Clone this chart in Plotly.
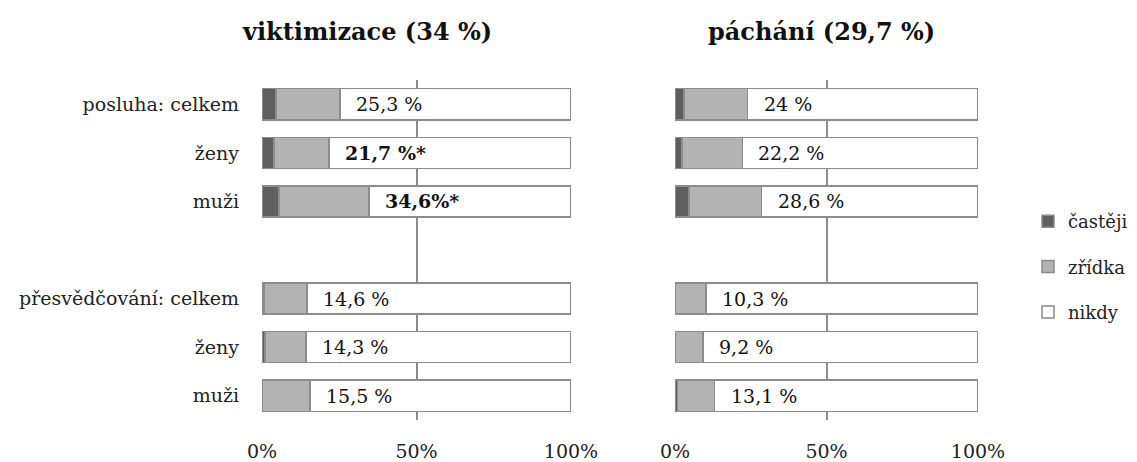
import plotly.graph_objects as go

categories = ["posluha: celkem", "ženy", "muži", "přesvědčování: celkem", "ženy", "muži"]
groups = [0, 0, 0, 1, 1, 1]

# viktimizace
vik_castej = [4.5, 3.9, 5.5, 0.6, 1.0, 0.0]
vik_zridka = [20.8, 17.8, 29.1, 14.0, 13.3, 15.5]
vik_labels = ["25,3 %", "<b>21,7 %*</b>", "<b>34,6%*</b>", "14,6 %", "14,3 %", "15,5 %"]

# páchání
pach_castej = [3.0, 2.3, 4.6, 0.0, 0.0, 0.8]
pach_zridka = [21.0, 19.9, 24.0, 10.3, 9.2, 12.3]
pach_labels = ["24 %", "22,2 %", "28,6 %", "10,3 %", "9,2 %", "13,1 %"]

titles = ["viktimizace (34 %)", "páchání (29,7 %)"]
series_names = ["častěji", "zřídka", "nikdy"]
colors = ["#5f5f5f", "#b3b3b3", "#ffffff"]
x_ticks = [0, 50, 100]
x_ticktext = ["0%", "50%", "100%"]

FONT = "DejaVu Serif"
W, H = 1137, 462
pos = [i + g for i, g in enumerate(groups)]  # leave a blank row between groups

fig = go.Figure()
panels = [(vik_castej, vik_zridka, vik_labels, "x", "y"),
          (pach_castej, pach_zridka, pach_labels, "x2", "y2")]
for p, (c, z, labs, xa, ya) in enumerate(panels):
    nik = [100 - a - b for a, b in zip(c, z)]
    for k, vals in enumerate([c, z, nik]):
        fig.add_trace(go.Bar(
            x=vals, y=pos, orientation="h", name=series_names[k],
            marker=dict(color=colors[k], line=dict(color="#8c8c8c", width=1.5)),
            width=0.64, xaxis=xa, yaxis=ya, legendgroup=series_names[k],
            showlegend=(p == 0), hoverinfo="skip"))
    for yy, a, b, t in zip(pos, c, z, labs):
        fig.add_annotation(x=a + b, y=yy, xref=xa, yref=ya, text=t, showarrow=False,
                           xanchor="left", xshift=14, font=dict(family=FONT, size=19, color="#111"))

ydom = [1 - 420 / H, 1 - 80 / H]
common_x = dict(range=[0, 100], tickvals=x_ticks, ticktext=x_ticktext, showgrid=True,
                gridcolor="#8c8c8c", gridwidth=1.5, zeroline=False, showline=False,
                ticks="", ticklabelstandoff=18, tickfont=dict(family=FONT, size=19, color="#222"),
                automargin=False, fixedrange=True)
common_y = dict(range=[max(pos) + 0.5, -0.5], showgrid=False, zeroline=False, showline=False,
                ticks="", automargin=False, domain=ydom)

fig.update_layout(
    width=W, height=H, barmode="stack",
    margin=dict(l=0, r=0, t=0, b=0), plot_bgcolor="white", paper_bgcolor="white",
    xaxis=dict(domain=[262 / W, 571 / W], anchor="y", **common_x),
    xaxis2=dict(domain=[675 / W, 978 / W], anchor="y2", **common_x),
    yaxis=dict(tickvals=pos, ticktext=categories, ticklabelstandoff=22, anchor="x",
               tickfont=dict(family=FONT, size=19, color="#222"), **common_y),
    yaxis2=dict(showticklabels=False, anchor="x2", **common_y),
    legend=dict(x=1028 / W, y=1 - 267 / H, xanchor="left", yanchor="middle",
                traceorder="grouped", tracegroupgap=19, bgcolor="rgba(0,0,0,0)",
                font=dict(family=FONT, size=18, color="#222"), itemwidth=30),
    showlegend=True,
)

for t, xc in zip(titles, [367 / W, 821 / W]):
    fig.add_annotation(x=xc, y=1 - 31 / H, xref="paper", yref="paper", text="<b>" + t + "</b>",
                       showarrow=False, xanchor="center", yanchor="middle",
                       font=dict(family=FONT, size=24, color="#111"))

fig.write_html("out.html", config={"displayModeBar": False},
               post_script="document.body.style.margin='0';")
